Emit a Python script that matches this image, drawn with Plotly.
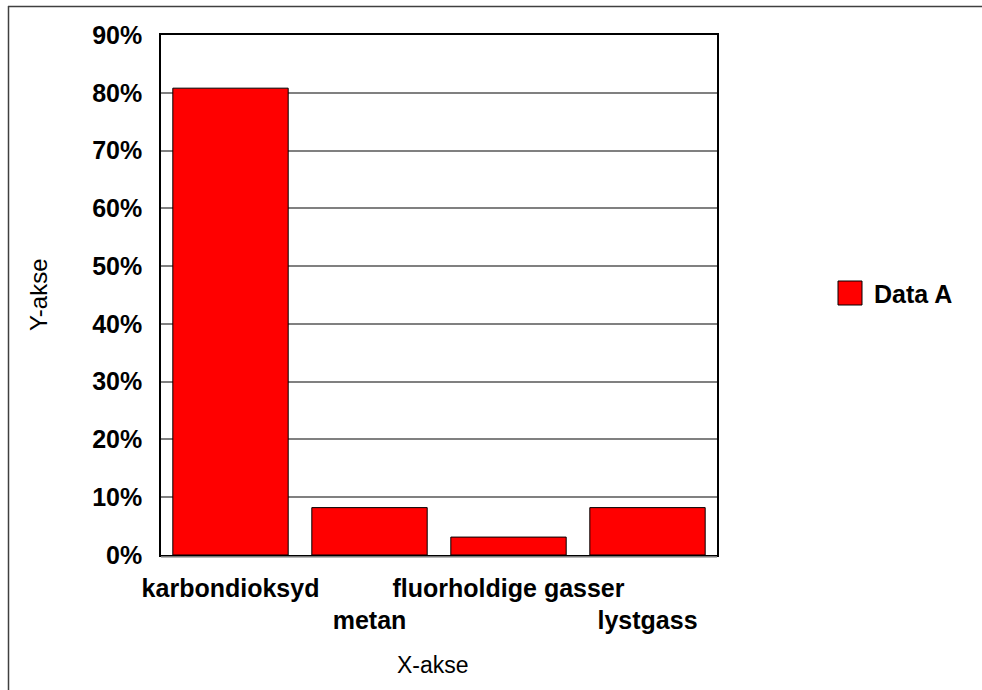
import plotly.graph_objects as go

categories = ["karbondioksyd", "metan", "fluorholdige gasser", "lystgass"]
values = [80.8, 8.2, 3.1, 8.2]
tick_labels = ["karbondioksyd", "<br>metan", "fluorholdige gasser", "<br>lystgass"]
y_ticks = [0, 10, 20, 30, 40, 50, 60, 70, 80, 90]
y_tick_labels = [f"{v}%" for v in y_ticks]
series_name = "Data A"

W, H = 982, 690
L, R, T, B = 161, 717, 35, 555

def px_x(p):
    return (p - L) / (R - L)

def px_y(p):
    return (B - p) / (B - T)

fig = go.Figure()
fig.add_trace(go.Bar(
    x=categories, y=values, name=series_name,
    marker=dict(color="#FF0000", line=dict(color="#000000", width=1)),
    showlegend=False,
))

font_bold = dict(family="Arial, Liberation Sans, sans-serif", size=25, color="#000000")

def bold_label(t):
    if t.startswith("<br>"):
        return "<br><b>" + t[4:] + "</b>"
    return f"<b>{t}</b>"

fig.update_layout(
    width=W, height=H,
    margin=dict(l=L, r=W - R, t=T, b=H - B, pad=0),
    paper_bgcolor="white", plot_bgcolor="white",
    bargap=0.17,
    font=dict(family="Arial, Liberation Sans, sans-serif"),
    xaxis=dict(
        tickvals=categories, ticktext=[bold_label(t) for t in tick_labels],
        tickfont=font_bold, showgrid=False,
        showline=True, linecolor="#000000", linewidth=1.5, mirror=True,
        ticks="", ticklabelstandoff=10, tickangle=0,
    ),
    yaxis=dict(
        range=[0, 90], tickvals=y_ticks,
        ticktext=[f"<b>{t}</b>" for t in y_tick_labels],
        tickfont=font_bold,
        showgrid=True, gridcolor="#808080", gridwidth=1.5,
        showline=True, linecolor="#000000", linewidth=1.5, mirror=True,
        ticks="", ticklabelstandoff=12, zeroline=False,
    ),
)

# axis titles
fig.add_annotation(text="X-akse", xref="paper", yref="paper", x=px_x(433), y=px_y(665),
                   showarrow=False, font=dict(size=23, color="#000000"), xanchor="center", yanchor="middle")
fig.add_annotation(text="Y-akse", xref="paper", yref="paper", x=px_x(38), y=px_y(295),
                   showarrow=False, textangle=-90, font=dict(size=24, color="#000000"),
                   xanchor="center", yanchor="middle")

# legend
fig.add_shape(type="rect", xref="paper", yref="paper",
              x0=px_x(838), x1=px_x(862), y0=px_y(305), y1=px_y(281),
              fillcolor="#FF0000", line=dict(color="#000000", width=1))
fig.add_annotation(text=f"<b>{series_name}</b>", xref="paper", yref="paper", x=px_x(872), y=px_y(294),
                   showarrow=False, font=font_bold, xanchor="left", yanchor="middle")

# gray shadow line under the x axis
fig.add_shape(type="line", xref="paper", yref="paper", x0=0, x1=1, y0=px_y(557), y1=px_y(557),
              line=dict(color="#A0A0A0", width=1.5))

# outer border (left and top)
fig.add_shape(type="line", xref="paper", yref="paper", x0=px_x(8.5), x1=px_x(8.5), y0=px_y(6), y1=px_y(700),
              line=dict(color="#404040", width=1.5))
fig.add_shape(type="line", xref="paper", yref="paper", x0=px_x(8), x1=px_x(990), y0=px_y(6.5), y1=px_y(6.5),
              line=dict(color="#404040", width=1.5))

fig.write_html("out.html", config={"displayModeBar": False},
               post_script="document.body.style.margin='0px';document.body.style.overflow='hidden';")
